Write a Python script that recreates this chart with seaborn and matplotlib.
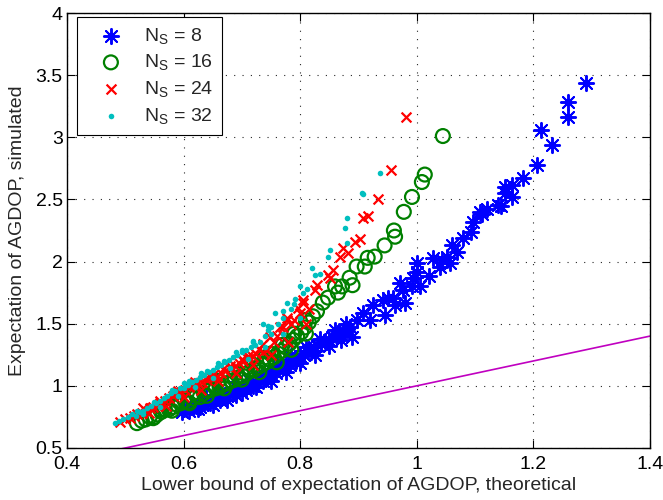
import matplotlib
matplotlib.use("Agg")
import matplotlib.pyplot as plt
import seaborn as sns

# ---------------- data ----------------
n8_x = [0.597, 0.604, 0.610, 0.615, 0.622, 0.628, 0.633, 0.640, 0.646, 0.652, 0.657, 0.662,
        0.668, 0.674, 0.680, 0.685, 0.690, 0.696, 0.702, 0.707, 0.714, 0.719, 0.724, 0.731,
        0.736, 0.743, 0.748, 0.753, 0.758, 0.764, 0.771, 0.776, 0.782, 0.788, 0.793, 0.800,
        0.806, 0.813, 0.818, 0.824, 0.829, 0.836, 0.843, 0.849, 0.855, 0.862, 0.868, 0.874,
        0.880, 0.886, 0.889, 0.897, 0.908, 0.920, 0.925, 0.942, 0.945, 0.951, 0.959, 0.963,
        0.971, 0.976, 0.980, 0.992, 0.993, 1.000, 1.000, 1.005, 1.021, 1.028, 1.040, 1.043,
        1.052, 1.057, 1.060, 1.069, 1.079, 1.094, 1.096, 1.108, 1.112, 1.120, 1.139, 1.144,
        1.151, 1.151, 1.163, 1.163, 1.182, 1.206, 1.213, 1.232, 1.259, 1.259, 1.290,
        0.612, 0.638, 0.662, 0.690, 0.712, 0.735, 0.760, 0.785, 0.810, 0.835, 0.860, 0.878,
        0.625, 0.650, 0.675, 0.700, 0.725, 0.750, 0.775, 0.800, 0.825, 0.850, 0.870]
n8_y = [0.79, 0.81, 0.80, 0.83, 0.84, 0.83, 0.86, 0.87, 0.86, 0.89, 0.90, 0.89,
        0.92, 0.92, 0.94, 0.95, 0.93, 0.97, 0.98, 0.97, 1.01, 1.00, 1.03, 1.05,
        1.04, 1.07, 1.09, 1.12, 1.10, 1.14, 1.16, 1.18, 1.17, 1.21, 1.20, 1.24,
        1.25, 1.28, 1.27, 1.31, 1.33, 1.34, 1.36, 1.37, 1.39, 1.41, 1.42, 1.44,
        1.46, 1.47, 1.39, 1.53, 1.59, 1.53, 1.65, 1.69, 1.57, 1.71, 1.71, 1.65,
        1.83, 1.77, 1.67, 1.80, 1.87, 1.92, 1.99, 1.80, 1.88, 2.03, 1.96, 2.01,
        2.04, 1.99, 2.13, 2.08, 2.19, 2.24, 2.32, 2.40, 2.38, 2.42, 2.455, 2.45,
        2.55, 2.60, 2.62, 2.52, 2.67, 2.78, 3.06, 2.94, 3.16, 3.28, 3.44,
        0.85, 0.90, 0.94, 0.99, 1.05, 1.10, 1.17, 1.24, 1.31, 1.38, 1.45, 1.50,
        0.81, 0.85, 0.89, 0.94, 0.99, 1.04, 1.11, 1.18, 1.25, 1.32, 1.37]

n16_x = [0.520, 0.528, 0.535, 0.542, 0.548, 0.555, 0.562, 0.568, 0.575, 0.582, 0.588, 0.595,
         0.602, 0.608, 0.615, 0.622, 0.628, 0.635, 0.642, 0.648, 0.655, 0.662, 0.668, 0.675,
         0.682, 0.688, 0.695, 0.702, 0.708, 0.715, 0.722, 0.728, 0.735, 0.742, 0.748, 0.755,
         0.762, 0.768, 0.775, 0.782, 0.788, 0.795, 0.802, 0.808, 0.815, 0.822, 0.829, 0.839,
         0.848, 0.860, 0.865, 0.872, 0.885, 0.890, 0.897, 0.911, 0.916, 0.928, 0.945, 0.961,
         0.963, 0.978, 0.992, 1.009, 1.014, 1.045,
         0.560, 0.590, 0.620, 0.650, 0.680, 0.710, 0.740, 0.770, 0.790, 0.810,
         0.550, 0.580, 0.610, 0.640, 0.670, 0.700, 0.730, 0.760, 0.785, 0.810,
         0.660, 0.690, 0.720, 0.750]
n16_y = [0.70, 0.72, 0.73, 0.75, 0.74, 0.77, 0.79, 0.81, 0.81, 0.83, 0.85, 0.86,
         0.88, 0.87, 0.90, 0.92, 0.91, 0.94, 0.96, 0.97, 0.98, 0.99, 1.01, 1.02,
         1.04, 1.05, 1.07, 1.08, 1.10, 1.12, 1.13, 1.15, 1.17, 1.19, 1.21, 1.23,
         1.26, 1.28, 1.31, 1.34, 1.37, 1.40, 1.43, 1.47, 1.51, 1.56, 1.60, 1.67,
         1.71, 1.80, 1.75, 1.80, 1.87, 1.81, 1.96, 1.96, 2.03, 2.04, 2.13, 2.25,
         2.20, 2.40, 2.52, 2.64, 2.70, 3.01,
         0.81, 0.88, 0.95, 1.01, 1.08, 1.15, 1.23, 1.33, 1.42, 1.53,
         0.75, 0.80, 0.86, 0.92, 0.98, 1.05, 1.11, 1.19, 1.29, 1.42,
         1.04, 1.10, 1.17, 1.26]

n24_x = [0.491, 0.500, 0.508, 0.515, 0.520, 0.528, 0.535, 0.542, 0.548, 0.555, 0.560, 0.568,
         0.575, 0.582, 0.589, 0.595, 0.602, 0.610, 0.618, 0.625, 0.632, 0.640, 0.648, 0.657,
         0.665, 0.672, 0.680, 0.688, 0.695, 0.702, 0.710, 0.718, 0.725, 0.736, 0.736, 0.743,
         0.748, 0.755, 0.765, 0.771, 0.777, 0.777, 0.785, 0.796, 0.800, 0.805, 0.805, 0.815,
         0.825, 0.829, 0.848, 0.851, 0.856, 0.868, 0.873, 0.882, 0.894, 0.903, 0.908, 0.916,
         0.934, 0.956, 0.981,
         0.530, 0.560, 0.590, 0.620, 0.650, 0.680, 0.710, 0.730, 0.760, 0.790,
         0.540, 0.570, 0.600, 0.630, 0.660, 0.690, 0.720, 0.750, 0.780, 0.810,
         0.610, 0.640, 0.670, 0.700, 0.730]
n24_y = [0.71, 0.73, 0.74, 0.76, 0.77, 0.78, 0.80, 0.82, 0.83, 0.84, 0.86, 0.88,
         0.90, 0.92, 0.94, 0.95, 0.97, 0.99, 1.00, 1.02, 1.03, 1.05, 1.07, 1.08,
         1.10, 1.12, 1.14, 1.16, 1.18, 1.20, 1.22, 1.24, 1.26, 1.27, 1.34, 1.29,
         1.39, 1.35, 1.47, 1.47, 1.53, 1.55, 1.50, 1.63, 1.59, 1.67, 1.69, 1.62,
         1.77, 1.81, 1.89, 1.87, 1.93, 2.04, 2.11, 2.07, 2.16, 2.18, 2.35, 2.37,
         2.50, 2.74, 3.16,
         0.82, 0.88, 0.96, 1.03, 1.09, 1.16, 1.24, 1.30, 1.40, 1.53,
         0.78, 0.84, 0.91, 0.97, 1.04, 1.10, 1.17, 1.25, 1.35, 1.50,
         1.00, 1.07, 1.14, 1.22, 1.30]

n32_x = [0.482, 0.490, 0.497, 0.505, 0.512, 0.518, 0.525, 0.530, 0.538, 0.545, 0.552, 0.560,
         0.566, 0.572, 0.578, 0.585, 0.594, 0.600, 0.608, 0.615, 0.622, 0.628, 0.636, 0.643,
         0.650, 0.658, 0.665, 0.672, 0.678, 0.685, 0.692, 0.700, 0.708, 0.715, 0.722, 0.731,
         0.736, 0.740, 0.745, 0.750, 0.757, 0.762, 0.770, 0.777, 0.785, 0.792, 0.800, 0.805,
         0.812, 0.820, 0.825, 0.835, 0.848, 0.851, 0.877, 0.880, 0.880, 0.906, 0.908, 0.937,
         0.520, 0.550, 0.580, 0.610, 0.640, 0.670, 0.700, 0.720, 0.745, 0.770, 0.790,
         0.530, 0.560, 0.590, 0.620, 0.650, 0.680, 0.710, 0.740, 0.770, 0.800,
         0.600, 0.630, 0.660, 0.690, 0.720, 0.750]
n32_y = [0.70, 0.72, 0.73, 0.75, 0.77, 0.76, 0.79, 0.80, 0.82, 0.84, 0.86, 0.88,
         0.90, 0.92, 0.94, 0.96, 0.98, 0.98, 1.01, 1.03, 1.05, 1.07, 1.09, 1.11,
         1.13, 1.15, 1.17, 1.19, 1.21, 1.23, 1.25, 1.27, 1.29, 1.31, 1.33, 1.35,
         1.50, 1.40, 1.45, 1.42, 1.59, 1.50, 1.55, 1.67, 1.62, 1.70, 1.80, 1.75,
         1.78, 1.95, 1.89, 1.90, 2.04, 2.09, 2.27, 2.35, 2.15, 2.55, 2.54, 2.71,
         0.80, 0.87, 0.97, 1.04, 1.12, 1.20, 1.29, 1.36, 1.48, 1.60, 1.66,
         0.77, 0.83, 0.92, 0.99, 1.06, 1.14, 1.22, 1.31, 1.42, 1.55,
         1.02, 1.10, 1.18, 1.27, 1.35, 1.47]

line_x = [0.4, 1.4]
line_y = [0.4, 1.4]

labels = [r"N$_{\mathregular{S}}$ = 8", r"N$_{\mathregular{S}}$ = 16",
          r"N$_{\mathregular{S}}$ = 24", r"N$_{\mathregular{S}}$ = 32"]
x_ticks = [0.4, 0.6, 0.8, 1.0, 1.2, 1.4]
x_ticklabels = ["0.4", "0.6", "0.8", "1", "1.2", "1.4"]
y_ticks = [0.5, 1.0, 1.5, 2.0, 2.5, 3.0, 3.5, 4.0]
y_ticklabels = ["0.5", "1", "1.5", "2", "2.5", "3", "3.5", "4"]

# ---------------- plot ----------------
sns.set_theme(style="white")
plt.rcParams["font.family"] = ["Liberation Sans", "DejaVu Sans"]
plt.rcParams["mathtext.fontset"] = "custom"
plt.rcParams["mathtext.rm"] = "Liberation Sans"
plt.rcParams["mathtext.it"] = "Liberation Sans"

fig = plt.figure(figsize=(6.63, 5.0), dpi=100)
ax = fig.add_axes([0.101, 0.104, 0.879, 0.870])

sns.scatterplot(x=n8_x, y=n8_y, ax=ax, marker=(8, 2, 0), s=120, color="#0000ff",
                linewidth=1.4, edgecolor="#0000ff", label=labels[0], zorder=3)
sns.scatterplot(x=n16_x, y=n16_y, ax=ax, marker="o", s=100, facecolor="none",
                edgecolor="#008000", linewidth=1.6, label=labels[1], zorder=4)
sns.scatterplot(x=n24_x, y=n24_y, ax=ax, marker="x", s=50, color="#ff0000",
                linewidth=1.6, label=labels[2], zorder=5)
sns.scatterplot(x=n32_x, y=n32_y, ax=ax, marker="o", s=16, color="#00bfbf",
                edgecolor="#00bfbf", linewidth=0, label=labels[3], zorder=6)
sns.lineplot(x=line_x, y=line_y, ax=ax, color="#c000c0", linewidth=1.2, zorder=2)

ax.set_xlim(0.4, 1.4)
ax.set_ylim(0.5, 4.0)
ax.set_xticks(x_ticks)
ax.set_xticklabels(x_ticklabels)
ax.set_yticks(y_ticks)
ax.set_yticklabels(y_ticklabels)
ax.tick_params(direction="in", length=6, width=0.8, labelsize=14, colors="black",
               top=True, right=True, bottom=True, left=True)
ax.tick_params(axis="x", pad=6)
ax.tick_params(axis="y", pad=3)
ax.grid(True, linestyle=(0, (1, 6.5)), color="black", linewidth=0.8, alpha=0.85)
for sp in ax.spines.values():
    sp.set_color("black")
    sp.set_linewidth(1.0)
ax.set_xlabel("Lower bound of expectation of AGDOP, theoretical", fontsize=14, labelpad=3)
ax.set_ylabel("Expectation of AGDOP, simulated", fontsize=14, labelpad=7)

leg = ax.legend(loc="upper left", bbox_to_anchor=(0.017, 0.991), borderaxespad=0,
                fontsize=14, frameon=True, fancybox=False, edgecolor="black",
                framealpha=1, handletextpad=0.4, borderpad=0.45, labelspacing=0.35,
                handlelength=2.6, markerscale=1.0)
leg.get_frame().set_linewidth(0.8)

fig.savefig("out.png", dpi=100)
